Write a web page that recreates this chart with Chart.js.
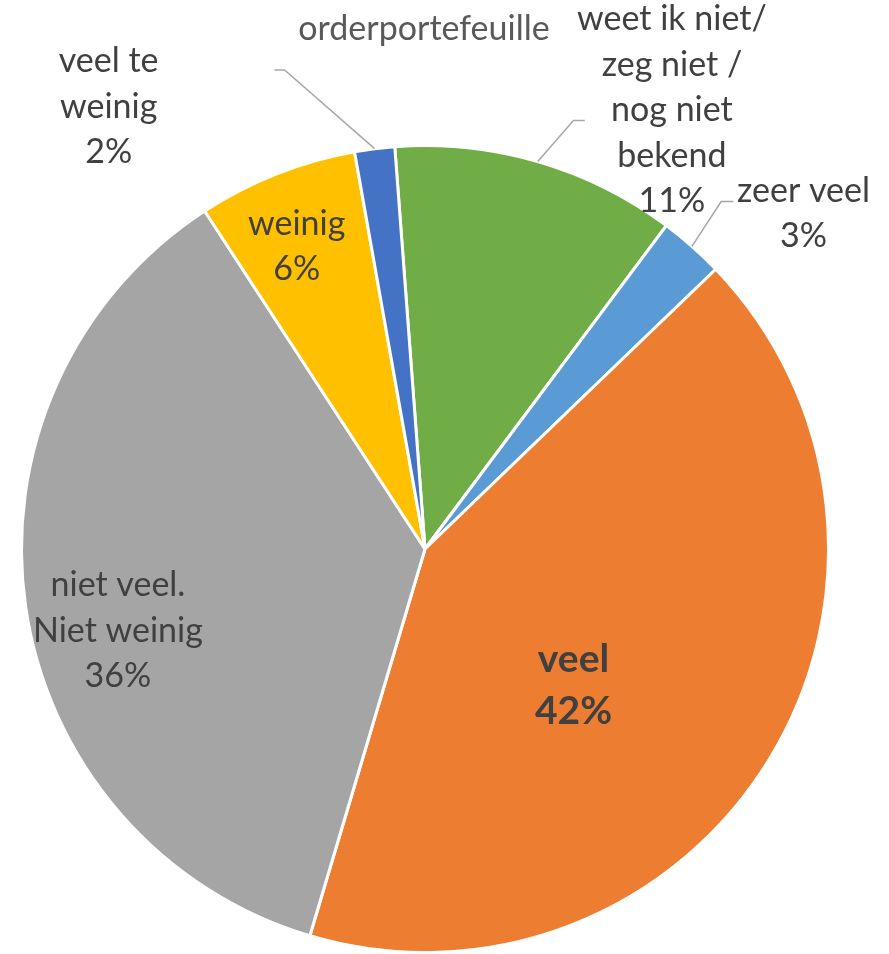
<!DOCTYPE html>
<html>
<head>
<meta charset="utf-8">
<script src="https://cdn.jsdelivr.net/npm/chart.js@4"></script>
<style>
  html, body { margin: 0; padding: 0; background: #fff; }
  #wrap { width: 889px; height: 954px; }
</style>
</head>
<body>
<div id="wrap"><canvas id="my-chart" width="889" height="954"></canvas></div>
<script>
// data
const chartTitle = 'orderportefeuille';
const categories = ['weet ik niet/ zeg niet / nog niet bekend', 'zeer veel', 'veel', 'niet veel. Niet weinig', 'weinig', 'veel te weinig'];
const labelLines = [['weet ik niet/', 'zeg niet /', 'nog niet', 'bekend'], ['zeer veel'], ['veel'], ['niet veel.', 'Niet weinig'], ['weinig'], ['veel te', 'weinig']];
const shares = [11.4, 2.6, 41.8, 36.2, 6.4, 1.6];
const sliceColors = ['#70AD47', '#5B9BD5', '#ED7D31', '#A5A5A5', '#FFC000', '#4472C4'];

// label placement, in units of the pie radius from its centre
// [centre x, first baseline y, bold, leader: [elbowX, elbowY, endX] or null]
const labelPlace = [
  [0.612, -1.286, false, [0.368, -1.062, 0.396]],
  [0.938, -0.861, false, [0.734, -0.861, 0.764]],
  [0.368, 0.306, true, null],
  [-0.761, 0.117, false, null],
  [-0.318, -0.779, false, null],
  [-0.784, -1.182, false, [-0.348, -1.187, -0.373]]
];

const FONT = 'Lato, "Noto Sans", sans-serif';

const labelPlugin = {
  id: 'sliceLabels',
  afterDatasetsDraw(chart) {
    const ctx = chart.ctx;
    const meta = chart.getDatasetMeta(0);
    const total = shares.reduce((a, b) => a + b, 0);
    const arc0 = meta.data[0];
    const cx = arc0.x, cy = arc0.y, r = arc0.outerRadius;

    ctx.save();
    ctx.textAlign = 'center';
    ctx.textBaseline = 'alphabetic';

    // title
    ctx.fillStyle = '#595959';
    ctx.font = '34px ' + FONT;
    ctx.fillText(chartTitle, cx - 1, cy - 1.261 * r);

    meta.data.forEach((arc, i) => {
      const [lx, ly, bold, leader] = labelPlace[i];
      const lines = labelLines[i].concat([Math.round(shares[i] / total * 100) + '%']);
      const step = bold ? 52 : 45.5;
      ctx.font = (bold ? 'bold 39px ' : '34px ') + FONT;
      ctx.fillStyle = '#404040';
      lines.forEach((t, k) => ctx.fillText(t, cx + lx * r, cy + ly * r + k * step));

      if (leader) {
        const mid = (arc.startAngle + arc.endAngle) / 2;
        ctx.strokeStyle = '#A6A6A6';
        ctx.lineWidth = 1.5;
        ctx.beginPath();
        ctx.moveTo(cx + Math.cos(mid) * r, cy + Math.sin(mid) * r);
        ctx.lineTo(cx + leader[0] * r, cy + leader[1] * r);
        ctx.lineTo(cx + leader[2] * r, cy + leader[1] * r);
        ctx.stroke();
      }
    });
    ctx.restore();
  }
};

const ctx = document.getElementById('my-chart').getContext('2d');
const chart = new Chart(ctx, {
  type: 'pie',
  data: {
    labels: categories,
    datasets: [{
      data: shares,
      backgroundColor: sliceColors,
      borderColor: '#ffffff',
      borderWidth: 3
    }]
  },
  options: {
    responsive: false,
    animation: false,
    rotation: -4.3,
    layout: { padding: { left: 20, right: 59, top: 144, bottom: 0 } },
    plugins: {
      legend: { display: false },
      title: { display: false },
      tooltip: { enabled: false }
    }
  },
  plugins: [labelPlugin]
});
</script>
</body>
</html>
